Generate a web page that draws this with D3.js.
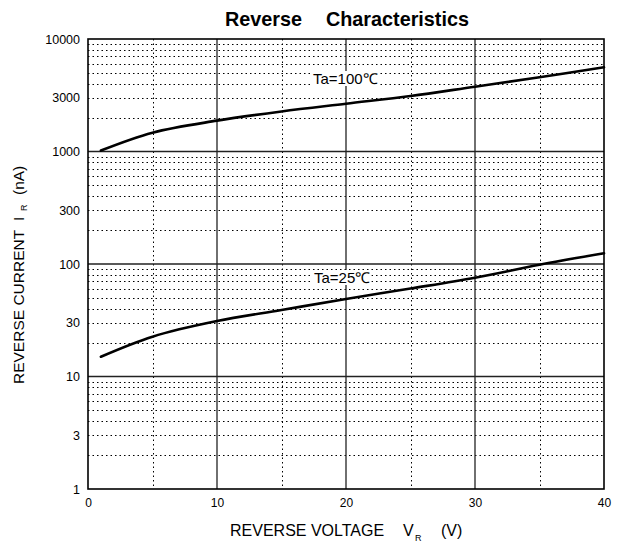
<!DOCTYPE html>
<html>
<head>
<meta charset="utf-8">
<script src="https://cdn.jsdelivr.net/npm/d3@7/dist/d3.min.js"></script>
<style>
  body { margin: 0; background: #fff; }
  svg { display: block; }
  text { font-family: "Liberation Sans", Arial, sans-serif; fill: #000; }
</style>
</head>
<body>
<svg id="chart" width="619" height="545"></svg>
<script>
// ---- data ----
const voltage = [1, 5, 10, 15, 20, 25, 30, 35, 40];
const current100 = [1020, 1470, 1880, 2270, 2660, 3110, 3770, 4570, 5600];
const current25 = [15.0, 22.6, 31.1, 39.0, 48.9, 60.5, 75.5, 98.6, 124.5];
const xTicks = [0, 10, 20, 30, 40];
const xMinorTicks = [5, 15, 25, 35];
const yTicks = [1, 3, 10, 30, 100, 300, 1000, 3000, 10000];
const yMajor = [10, 100, 1000];
const seriesLabels = ["Ta=100\u2103", "Ta=25\u2103"];
const titleParts = ["Reverse", "Characteristics"];

// ---- layout ----
const FONT = "'Liberation Sans', Arial, sans-serif";
const L = 88, R = 604, T = 39, B = 489;
const svg = d3.select("#chart");
const x = d3.scaleLinear().domain([0, 40]).range([L, R]);
const y = d3.scaleLog().domain([1, 10000]).range([B, T]);

const yMinor = [];
for (let d = 1; d < 10000; d *= 10) for (let k = 2; k <= 9; k++) yMinor.push(d * k);

const g = svg.append("g");
g.selectAll(".hminor").data(yMinor).join("line")
  .attr("x1", L).attr("x2", R)
  .attr("y1", d => Math.round(y(d)) + 0.5).attr("y2", d => Math.round(y(d)) + 0.5)
  .attr("stroke", "#000").attr("stroke-width", 1)
  .attr("stroke-dasharray", "1.5,3");
g.selectAll(".vminor").data(xMinorTicks).join("line")
  .attr("x1", d => Math.round(x(d)) + 0.5).attr("x2", d => Math.round(x(d)) + 0.5)
  .attr("y1", T).attr("y2", B)
  .attr("stroke", "#000").attr("stroke-width", 1)
  .attr("stroke-dasharray", "1.5,3");
g.selectAll(".hmajor").data(yMajor).join("line")
  .attr("x1", L).attr("x2", R)
  .attr("y1", d => y(d)).attr("y2", d => y(d))
  .attr("stroke", "#222").attr("stroke-width", 1.3);
g.selectAll(".vmajor").data([10, 20, 30]).join("line")
  .attr("x1", d => x(d)).attr("x2", d => x(d))
  .attr("y1", T).attr("y2", B)
  .attr("stroke", "#222").attr("stroke-width", 1.3);

g.append("rect").attr("x", L).attr("y", T).attr("width", R - L).attr("height", B - T)
  .attr("fill", "none").attr("stroke", "#000").attr("stroke-width", 1.6);

// axes tick labels
const xAxis = d3.axisBottom(x).tickValues(xTicks).tickSize(0).tickPadding(9).tickFormat(d3.format("d"));
svg.append("g").attr("transform", `translate(0,${B})`).call(xAxis)
  .attr("font-family", FONT).attr("font-size", 12)
  .call(s => s.select(".domain").remove())
  .selectAll("text").attr("fill", "#000");
const yAxis = d3.axisLeft(y).tickValues(yTicks).tickSize(0).tickPadding(8).tickFormat(d3.format("d"));
svg.append("g").attr("transform", `translate(${L},0)`).call(yAxis)
  .attr("font-family", FONT).attr("font-size", 12.5)
  .call(s => s.select(".domain").remove())
  .selectAll("text").attr("fill", "#000");

// curves
const line = d3.line().x(d => x(d[0])).y(d => y(d[1])).curve(d3.curveCatmullRom.alpha(0.5));
[current100, current25].forEach(vals => {
  svg.append("path").datum(voltage.map((v, i) => [v, vals[i]]))
    .attr("d", line).attr("fill", "none").attr("stroke", "#000")
    .attr("stroke-width", 2.6).attr("stroke-linecap", "round");
});

// series labels with white background
const labelPos = [{x: 313, y: 84}, {x: 314, y: 283}];
seriesLabels.forEach((t, i) => {
  const bg = svg.append("rect").attr("fill", "#fff");
  const tx = svg.append("text").attr("x", labelPos[i].x).attr("y", labelPos[i].y)
    .attr("font-size", "15px").text(t);
  const bb = tx.node().getBBox();
  bg.attr("x", bb.x - 1).attr("y", bb.y + 1).attr("width", bb.width + 2).attr("height", bb.height - 2);
});

// title
svg.append("text").attr("x", 225).attr("y", 26).attr("font-size", "19.8px").attr("font-weight", "bold").text(titleParts[0]);
svg.append("text").attr("x", 326).attr("y", 26).attr("font-size", "19.8px").attr("font-weight", "bold").text(titleParts[1]);

// x axis label
const xl = svg.append("g");
xl.append("text").attr("x", 230).attr("y", 536).attr("font-size", "16px").text("REVERSE VOLTAGE");
xl.append("text").attr("x", 403).attr("y", 536).attr("font-size", "16px").text("V");
xl.append("text").attr("x", 415).attr("y", 541).attr("font-size", "9px").text("R");
xl.append("text").attr("x", 441).attr("y", 536).attr("font-size", "16px").text("(V)");

// y axis label
const yl = svg.append("g").attr("transform", "translate(24,0) rotate(-90)");
yl.append("text").attr("x", -384).attr("y", 0).attr("font-size", "15.5px").text("REVERSE CURRENT");
yl.append("text").attr("x", -221).attr("y", 0).attr("font-size", "15.5px").text("I");
yl.append("text").attr("x", -211).attr("y", 3).attr("font-size", "9px").text("R");
yl.append("text").attr("x", -195).attr("y", 0).attr("font-size", "15.5px").text("(nA)");
</script>
</body>
</html>
